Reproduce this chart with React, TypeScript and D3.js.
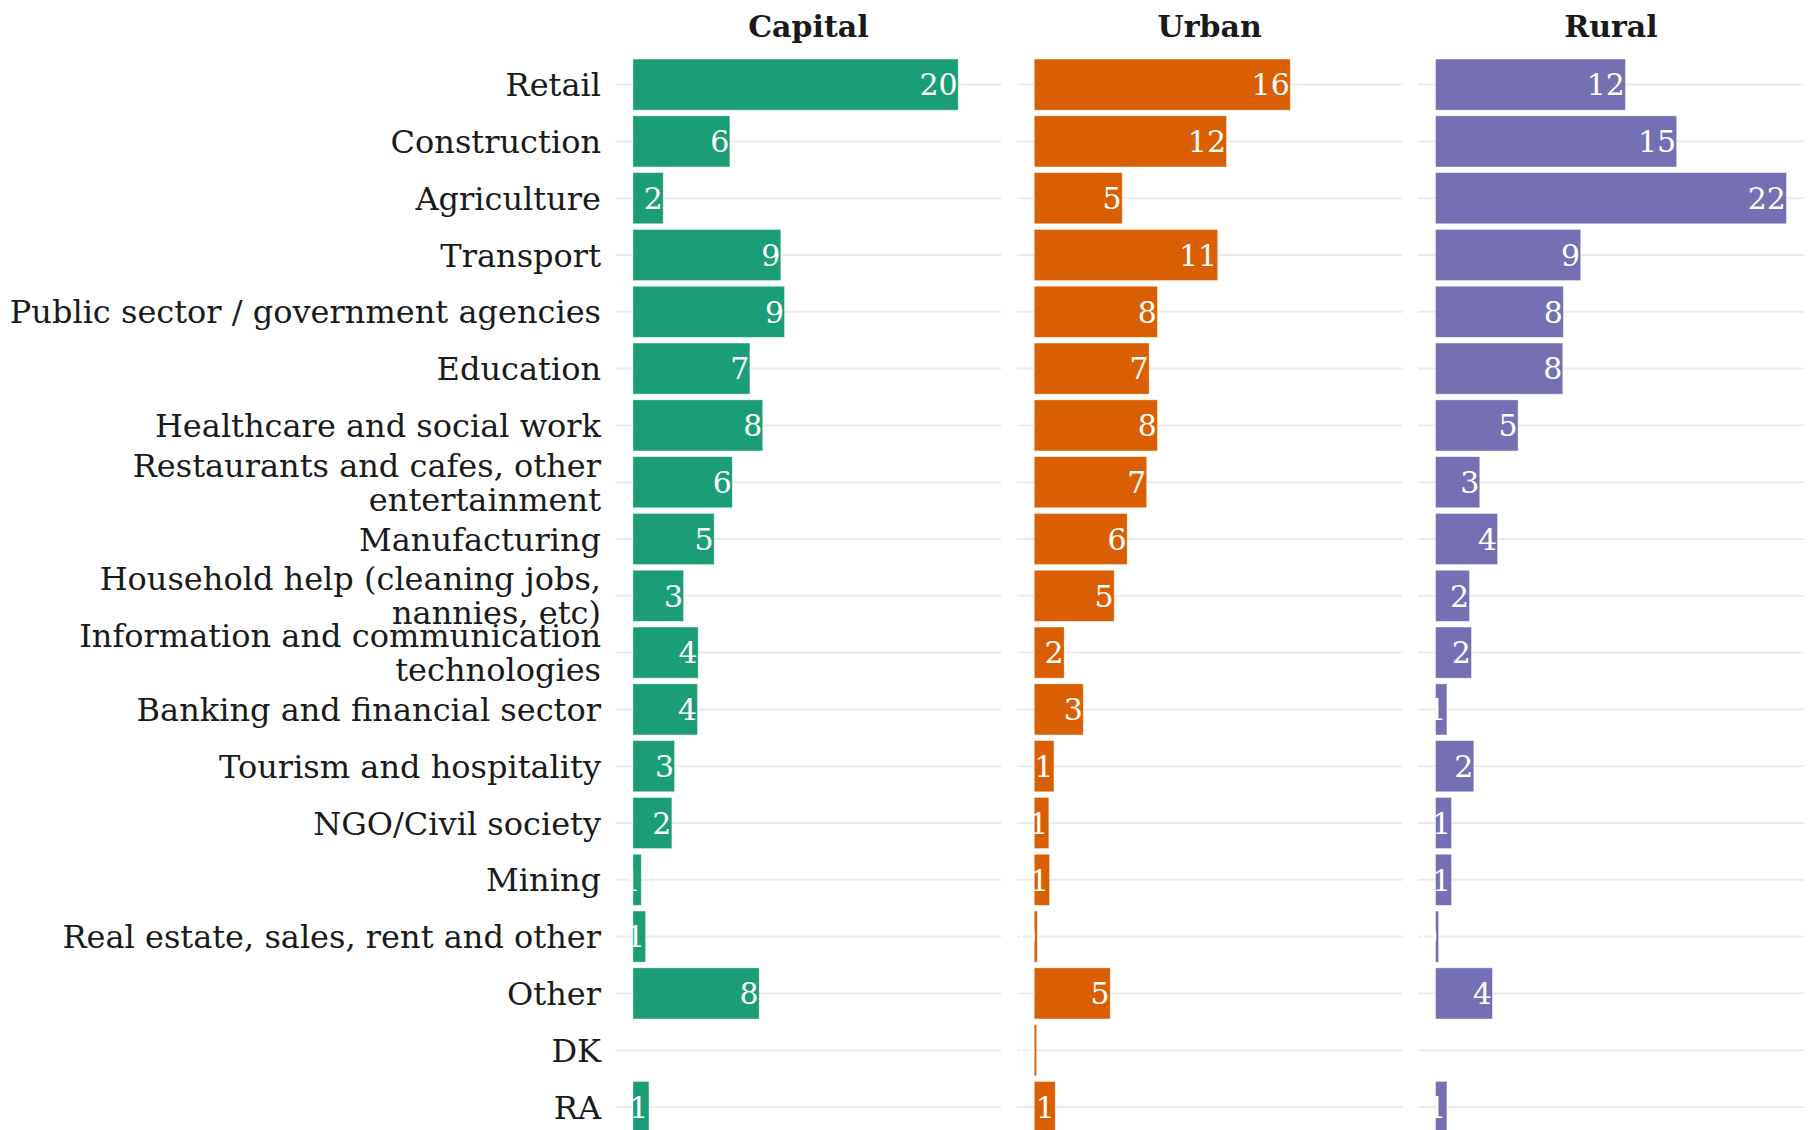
import React from "react";
import * as d3 from "d3";

const categories = [
  "Retail",
  "Construction",
  "Agriculture",
  "Transport",
  "Public sector / government agencies",
  "Education",
  "Healthcare and social work",
  "Restaurants and cafes, other\nentertainment",
  "Manufacturing",
  "Household help (cleaning jobs,\nnannies, etc)",
  "Information and communication\ntechnologies",
  "Banking and financial sector",
  "Tourism and hospitality",
  "NGO/Civil society",
  "Mining",
  "Real estate, sales, rent and other",
  "Other",
  "DK",
  "RA",
];

const panels = ["Capital", "Urban", "Rural"];

const capitalValues: (number | null)[] = [
  20.3, 6.05, 1.89, 9.23, 9.46, 7.3, 8.1, 6.2, 5.07, 3.16, 4.07, 4.03, 2.6, 2.43, 0.52, 0.79, 7.88, null, 1.0,
];
const urbanValues: (number | null)[] = [
  15.98, 12.0, 5.49, 11.45, 7.69, 7.17, 7.69, 7.02, 5.8, 4.99, 1.87, 3.06, 1.23, 0.91, 0.96, 0.19, 4.74, 0.15, 1.31,
];
const ruralValues: (number | null)[] = [
  11.85, 15.05, 21.9, 9.06, 7.98, 7.94, 5.15, 2.76, 3.87, 2.12, 2.24, 0.71, 2.39, 1.0, 1.0, 0.19, 3.55, null, 0.71,
];

const panelColors = ["#1B9E77", "#D95F02", "#7570B3"];

const W = 1810;
const H = 1130;
const FONT = "'DejaVu Serif', serif";

export default function App() {
  const series = [capitalValues, urbanValues, ruralValues];
  const allVals = series.flat().filter((v): v is number => v != null);
  const maxV = d3.max(allVals) as number;

  const panelW = 386;
  const panelStride = 401.3;
  const panelX0 = 615.4;
  const step = 56.8;
  const panelTop = 84.6 - 0.6 * step;
  const panelBottom = panelTop + 19.2 * step;

  const y = d3
    .scaleBand<string>()
    .domain(categories)
    .range([panelTop, panelBottom])
    .paddingInner(0.1)
    .paddingOuter(0.15);

  const rowCenter = (c: string) => (y(c) as number) + y.bandwidth() / 2;

  return (
    <svg
      width={W}
      height={H}
      style={{ position: "absolute", left: 0, top: 0, background: "#fff" }}
      fontFamily={FONT}
    >
      <defs>
        {panels.map((p, i) => {
          const x0 = panelX0 + i * panelStride;
          return (
            <clipPath id={`clip-${i}`} key={p}>
              <rect x={x0} y={panelTop} width={panelW} height={panelBottom - panelTop} />
            </clipPath>
          );
        })}
      </defs>

      {/* Category labels */}
      {categories.map((c) => {
        const lines = c.split("\n");
        const cy = rowCenter(c);
        const lh = 34;
        return (
          <text key={c} x={601} textAnchor="end" fontSize={32} fill="#1a1a1a">
            {lines.map((ln, j) => (
              <tspan
                key={j}
                x={601}
                y={cy + (j - (lines.length - 1) / 2) * lh}
                dy="0.36em"
              >
                {ln}
              </tspan>
            ))}
          </text>
        );
      })}

      {panels.map((p, i) => {
        const x0 = panelX0 + i * panelStride;
        const pad = (panelW * 0.05) / 1.1;
        const x = d3
          .scaleLinear()
          .domain([0, maxV])
          .range([x0 + pad, x0 + panelW - pad]);
        const vals = series[i];
        return (
          <g key={p}>
            <text
              x={x0 + panelW / 2}
              y={37}
              textAnchor="middle"
              fontSize={30}
              fontWeight="bold"
              fill="#1a1a1a"
            >
              {p}
            </text>
            <g clipPath={`url(#clip-${i})`}>
              {categories.map((c) => (
                <line
                  key={c}
                  x1={x0}
                  x2={x0 + panelW}
                  y1={rowCenter(c)}
                  y2={rowCenter(c)}
                  stroke="#EBEBEB"
                  strokeWidth={2}
                />
              ))}
              {categories.map((c, j) => {
                const v = vals[j];
                if (v == null) return null;
                return (
                  <rect
                    key={c}
                    x={x(0)}
                    y={y(c)}
                    width={x(v) - x(0)}
                    height={y.bandwidth()}
                    fill={panelColors[i]}
                    stroke="#ffffff"
                    strokeOpacity={0.5}
                    strokeWidth={0.8}
                  />
                );
              })}
              {categories.map((c, j) => {
                const v = vals[j];
                if (v == null) return null;
                return (
                  <text
                    key={c}
                    x={x(v) - 0.5}
                    y={rowCenter(c)}
                    dy="0.36em"
                    textAnchor="end"
                    fontSize={30}
                    fill="#ffffff"
                  >
                    {Math.round(v)}
                  </text>
                );
              })}
            </g>
          </g>
        );
      })}
    </svg>
  );
}
